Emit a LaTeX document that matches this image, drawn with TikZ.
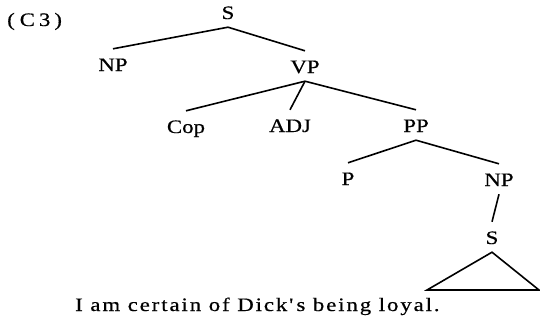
\documentclass[tikz,border=0pt]{standalone}
\usepackage{fontspec}
\setmainfont{Liberation Serif}[FakeStretch=1.2,FakeBold=0.6]
\newfontfamily\sentfont{Liberation Serif}[FakeStretch=1.2,FakeBold=0.6,LetterSpace=10]
\begin{document}
\begin{tikzpicture}[x=1pt,y=-1pt,
  cat/.style={inner sep=0pt,text height=22pt,text depth=8pt,anchor=base,
    font=\fontsize{19}{21}\selectfont},
  plain/.style={inner sep=0pt,anchor=base west,font=\fontsize{19}{21}\selectfont},
  branch/.style={line width=1.6pt}]
\useasboundingbox (0,0) rectangle (540,324);
\node[plain] (lab) at (7,26) {(\hspace{5pt}C\hspace{4pt}3\hspace{4pt})};
\node[cat] (s1) at (228,19) {S};
\node[cat] (np1) at (113,71) {NP};
\node[cat] (vp) at (305,73) {VP};
\node[cat] (cop) at (186,133) {Cop};
\node[cat] (adj) at (290,132) {ADJ};
\node[cat] (pp) at (416,132) {PP};
\node[cat] (p) at (348,185) {P};
\node[cat] (np2) at (499,186) {NP};
\node[cat] (s2) at (492,244) {S};
\coordinate (tl) at (427,290);
\coordinate (tr) at (539,290);
\node[plain,font=\fontsize{19}{21}\sentfont] (sent) at (75,311) {I am certain of Dick'\,s being loyal.};
\draw[branch] (s1.south) -- (np1.north);
\draw[branch] (s1.south) -- (vp.north);
\draw[branch] (vp.south) -- (cop.north);
\draw[branch] (vp.south) -- (adj.north);
\draw[branch] (vp.south) -- (pp.north);
\draw[branch] (pp.south) -- (p.north);
\draw[branch] (pp.south) -- (np2.north);
\draw[branch] (np2.south) -- (s2.north);
\draw[branch,line join=miter] (s2.south) -- (tl) -- (tr) -- cycle;
\end{tikzpicture}
\end{document}
